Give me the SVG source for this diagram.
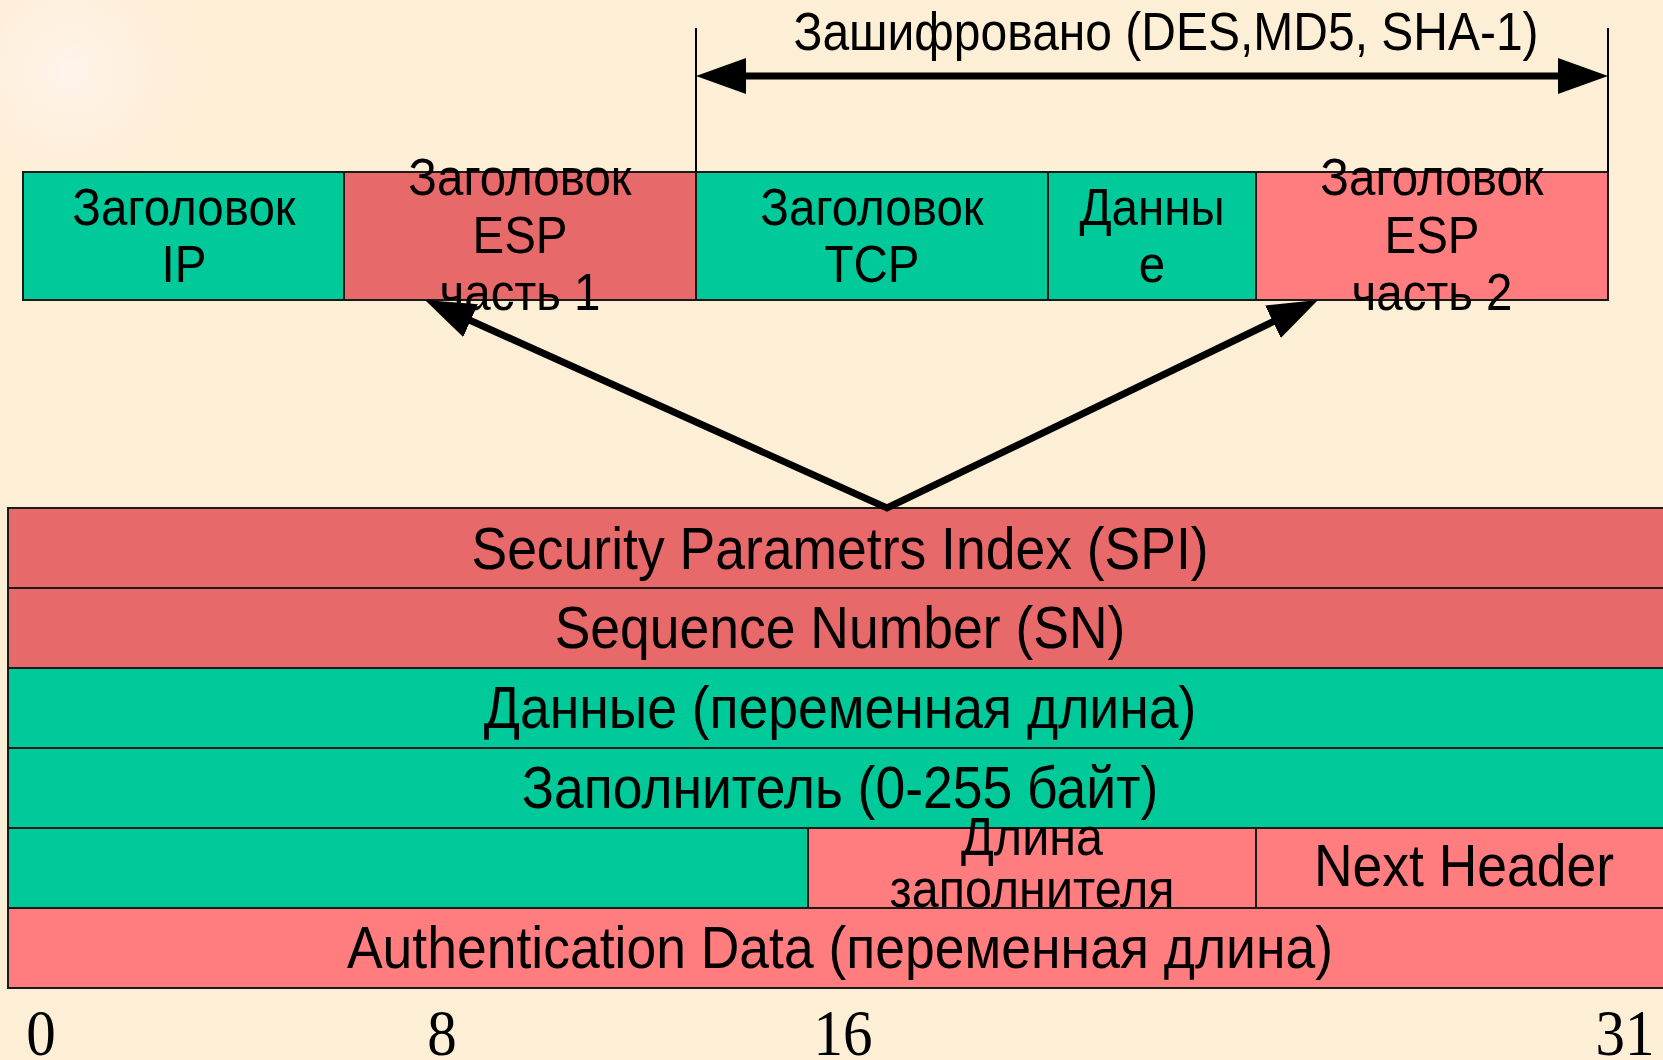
<svg xmlns="http://www.w3.org/2000/svg" width="1663" height="1060" viewBox="0 0 1663 1060">
  <defs>
    <radialGradient id="glow" cx="70" cy="70" r="160" gradientUnits="userSpaceOnUse">
      <stop offset="0" stop-color="#FFF3EC" stop-opacity="1"/>
      <stop offset="1" stop-color="#FDEFD6" stop-opacity="0"/>
    </radialGradient>
    <marker id="head" markerUnits="userSpaceOnUse" markerWidth="50" markerHeight="36" refX="5" refY="18" orient="auto-start-reverse" viewBox="0 0 50 36">
      <path d="M0,0 L50,18 L0,36 z" fill="#000"/>
    </marker>
    <style>
      .bg { fill: #FDEFD6; }
      .green { fill: #00C99A; stroke: #1a1a1a; stroke-width: 2; }
      .red { fill: #E8696A; stroke: #1a1a1a; stroke-width: 2; }
      .pink { fill: #FF7C7F; stroke: #1a1a1a; stroke-width: 2; }
      .lbl { font-family: "Liberation Sans", Arial, sans-serif; font-size: 47.5px; fill: #000; text-anchor: middle; }
      .row { font-family: "Liberation Sans", Arial, sans-serif; font-size: 53.5px; fill: #000; text-anchor: middle; }
      .num { font-family: "Liberation Serif", "Times New Roman", serif; font-size: 59px; fill: #000; text-anchor: middle; }
      .thin { stroke: #000; stroke-width: 2; fill: none; }
      .arrow { stroke: #000; stroke-width: 7; fill: none; stroke-linejoin: miter; marker-start: url(#head); marker-end: url(#head); }
    </style>
  </defs>

  <rect class="bg" x="0" y="0" width="1663" height="1060"/>
  <rect x="0" y="0" width="400" height="400" fill="url(#glow)"/>

  <!-- top packet -->
  <g id="ip-header">
    <rect class="green" x="23" y="172" width="321" height="128"/>
    <text class="lbl" transform="translate(184,225) scale(1,1.1)">Заголовок</text>
    <text class="lbl" transform="translate(184,282) scale(1,1.1)">IP</text>
  </g>
  <g id="esp-header-1">
    <rect class="red" x="344" y="172" width="352" height="128"/>
    <text class="lbl" transform="translate(520,195) scale(1,1.1)">Заголовок</text>
    <text class="lbl" transform="translate(520,253) scale(1,1.1)">ESP</text>
    <text class="lbl" transform="translate(520,310) scale(1,1.1)">часть 1</text>
  </g>
  <g id="tcp-header">
    <rect class="green" x="696" y="172" width="352" height="128"/>
    <text class="lbl" transform="translate(872,225) scale(1,1.1)">Заголовок</text>
    <text class="lbl" transform="translate(872,282) scale(1,1.1)">TCP</text>
  </g>
  <g id="data">
    <rect class="green" x="1048" y="172" width="208" height="128"/>
    <text class="lbl" transform="translate(1152,225) scale(1,1.1)">Данны</text>
    <text class="lbl" transform="translate(1152,282) scale(1,1.1)">е</text>
  </g>
  <g id="esp-header-2">
    <rect class="pink" x="1256" y="172" width="352" height="128"/>
    <text class="lbl" transform="translate(1432,195) scale(1,1.1)">Заголовок</text>
    <text class="lbl" transform="translate(1432,253) scale(1,1.1)">ESP</text>
    <text class="lbl" transform="translate(1432,310) scale(1,1.1)">часть 2</text>
  </g>

  <!-- encrypted span -->
  <g id="encrypted">
    <line class="thin" x1="696" y1="28" x2="696" y2="172"/>
    <line class="thin" x1="1608" y1="28" x2="1608" y2="172"/>
    <text class="lbl" transform="translate(1166,50) scale(1,1.1)" style="font-size:48px">Зашифровано (DES,MD5, SHA-1)</text>
  </g>

  <!-- bottom ESP format -->
  <g id="spi">
    <rect class="red" x="8" y="508" width="1665" height="80"/>
    <text class="row" transform="translate(840,569) scale(1,1.1)">Security Parametrs Index (SPI)</text>
  </g>
  <g id="sn">
    <rect class="red" x="8" y="588" width="1665" height="80"/>
    <text class="row" transform="translate(840,648) scale(1,1.1)">Sequence Number (SN)</text>
  </g>
  <g id="payload">
    <rect class="green" x="8" y="668" width="1665" height="80"/>
    <text class="row" transform="translate(840,728) scale(1,1.1)">Данные (переменная длина)</text>
  </g>
  <g id="padding">
    <rect class="green" x="8" y="748" width="1665" height="80"/>
    <text class="row" transform="translate(840,808) scale(1,1.1)">Заполнитель (0-255 байт)</text>
  </g>
  <g id="padding-cont">
    <rect class="green" x="8" y="828" width="800" height="80"/>
  </g>
  <g id="pad-length">
    <rect class="pink" x="808" y="828" width="448" height="80"/>
    <text class="lbl" transform="translate(1032,855) scale(1,1.1)" style="font-size:48.5px">Длина</text>
    <text class="lbl" transform="translate(1032,907) scale(1,1.1)" style="font-size:48.5px">заполнителя</text>
  </g>
  <g id="next-header">
    <rect class="pink" x="1256" y="828" width="417" height="80"/>
    <text class="row" transform="translate(1464,886) scale(1,1.1)">Next Header</text>
  </g>
  <g id="auth-data">
    <rect class="pink" x="8" y="908" width="1665" height="80"/>
    <text class="row" transform="translate(840,968) scale(1,1.1)">Authentication Data (переменная длина)</text>
  </g>

  <g id="bit-scale">
    <text class="num" transform="translate(41,1055) scale(1,1.1)">0</text>
    <text class="num" transform="translate(442,1055) scale(1,1.1)">8</text>
    <text class="num" transform="translate(843,1055) scale(1,1.1)">16</text>
    <text class="num" transform="translate(1625,1055) scale(1,1.1)">31</text>
  </g>

  <!-- connectors -->
  <g id="connectors">
    <path class="arrow" d="M741,76 L1563,76"/>
    <path class="arrow" d="M466,318.5 L887,508 L1277.5,319.6"/>
  </g>
</svg>
